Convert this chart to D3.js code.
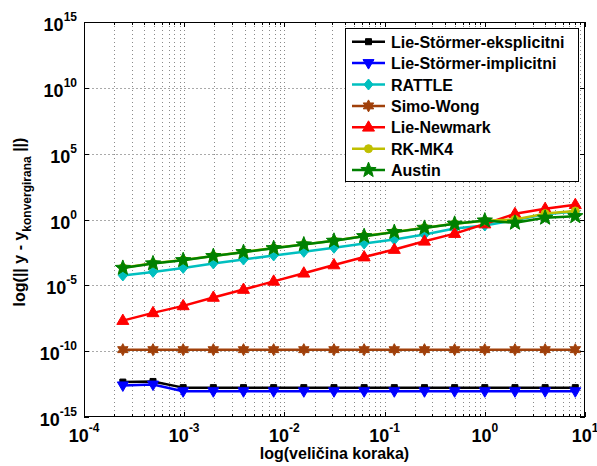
<!DOCTYPE html>
<html><head><meta charset="utf-8">
<script src="https://cdn.jsdelivr.net/npm/d3@7"></script>
<style>body{margin:0;background:#fff}svg{display:block}text{font-family:"Liberation Sans",Arial,sans-serif;font-weight:bold;fill:#000}</style>
</head><body><svg id="c" width="597" height="466"></svg>
<script>
// ---- data ----
const stepSizes = [0.000244140625, 0.00048828125, 0.0009765625, 0.001953125, 0.00390625, 0.0078125, 0.015625, 0.03125, 0.0625, 0.125, 0.25, 0.5, 1, 2, 4, 8];
const lieStormerExplicit = [4.5e-13, 5.0e-13, 1.7e-13, 1.7e-13, 1.7e-13, 1.7e-13, 1.7e-13, 1.7e-13, 1.7e-13, 1.7e-13, 1.7e-13, 1.7e-13, 1.7e-13, 1.7e-13, 1.7e-13, 1.7e-13];
const lieStormerImplicit = [2.5e-13, 2.9e-13, 9e-14, 9e-14, 9e-14, 9e-14, 9e-14, 9e-14, 9e-14, 9e-14, 9e-14, 9e-14, 9e-14, 9e-14, 9e-14, 9e-14];
const rattle = [5.6e-5, 1.05e-4, 2.1e-4, 4.6e-4, 9.1e-4, 1.86e-3, 3.5e-3, 7.1e-3, 0.0151, 0.030, 0.072, 0.21, 0.35, 0.89, 2.5, 4.0];
const simoWong = [1.3e-10, 1.3e-10, 1.3e-10, 1.3e-10, 1.3e-10, 1.3e-10, 1.3e-10, 1.3e-10, 1.3e-10, 1.3e-10, 1.3e-10, 1.3e-10, 1.3e-10, 1.3e-10, 1.3e-10, 1.3e-10];
const lieNewmark = [2.1e-8, 8.1e-8, 2.75e-7, 1.2e-6, 4.8e-6, 2.0e-5, 8.3e-5, 3.5e-4, 1.4e-3, 5.2e-3, 0.022, 0.085, 0.45, 2.7, 6.6, 13.2];
const rkmk4 = [2.2e-4, 4.7e-4, 8.5e-4, 1.7e-3, 3.4e-3, 6.8e-3, 0.0129, 0.0245, 0.055, 0.112, 0.24, 0.48, 0.79, 1.0, 2.8, 4.5];
const austin = [2.1e-4, 4.6e-4, 8.1e-4, 1.66e-3, 3.3e-3, 6.6e-3, 0.0126, 0.024, 0.054, 0.11, 0.23, 0.47, 0.83, 0.56, 1.35, 1.78];
const seriesNames = ["Lie-Störmer-eksplicitni", "Lie-Störmer-implicitni", "RATTLE", "Simo-Wong", "Lie-Newmark", "RK-MK4", "Austin"];
const xTickExponents = [-4, -3, -2, -1, 0, 1];
const yTickExponents = [-15, -10, -5, 0, 5, 10, 15];
const xLabel = "log(veličina koraka)";
const yLabelMain = "log(|| y - y";
const yLabelSub = "konvergirana";
const yLabelEnd = " ||)";

// ---- styles ----
const colors = ["#000000", "#0000ff", "#00bfbf", "#a0400a", "#ff0000", "#bfbf00", "#008000"];
const markers = ["square", "triDown", "diamond", "hexagram", "triUp", "circle", "pentagram"];
const allSeries = [lieStormerExplicit, lieStormerImplicit, rattle, simoWong, lieNewmark, rkmk4, austin];

const L = 84, R = 585, T = 22, B = 417;
const svg = d3.select("#c");
const x = d3.scaleLog().domain([1e-4, 10]).range([L, R]);
const y = d3.scaleLog().domain([1e-15, 1e15]).range([B, T]);

function starPath(n, ro, ri) {
  const pts = [];
  for (let i = 0; i < 2 * n; i++) {
    const a = -Math.PI / 2 + i * Math.PI / n;
    const r = i % 2 === 0 ? ro : ri;
    pts.push([r * Math.cos(a), r * Math.sin(a)]);
  }
  return "M" + pts.map(p => p[0].toFixed(2) + "," + p[1].toFixed(2)).join("L") + "Z";
}
function markerPath(m) {
  switch (m) {
    case "square": return "M-3,-3H3V3H-3Z";
    case "triDown": return "M-5.5,-3.5L5.5,-3.5L0,6Z";
    case "triUp": return "M-6,3.8L6,3.8L0,-6.5Z";
    case "diamond": return "M0,-5.5L4.5,0L0,5.5L-4.5,0Z";
    case "hexagram": return starPath(6, 6, 3.3);
    case "circle": return d3.symbol(d3.symbolCircle, 50)();
    case "pentagram": return starPath(5, 8, 3.4);
  }
}

svg.append("rect").attr("x", L).attr("y", T).attr("width", R - L).attr("height", B - T).attr("fill", "#fff");

// grid
const g = svg.append("g");
const xGridVals = [];
for (let e = -4; e < 1; e++) for (let k = 1; k <= 9; k++) { const v = k * Math.pow(10, e); if (!(e === -4 && k === 1)) xGridVals.push(v); }
g.selectAll(".vg").data(xGridVals).join("line")
  .attr("x1", d => Math.round(x(d)) + 0.5).attr("x2", d => Math.round(x(d)) + 0.5)
  .attr("y1", T).attr("y2", B)
  .attr("stroke", "#8a8a8a").attr("stroke-width", 1).attr("stroke-dasharray", "1,3");
g.selectAll(".hg").data(yTickExponents.slice(1, -1)).join("line")
  .attr("y1", d => Math.round(y(Math.pow(10, d))) + 0.5).attr("y2", d => Math.round(y(Math.pow(10, d))) + 0.5)
  .attr("x1", L).attr("x2", R)
  .attr("stroke", "#aaa").attr("stroke-width", 1).attr("stroke-dasharray", "2,2");

// ticks (inside, all four sides)
const tk = svg.append("g").attr("stroke", "#000").attr("stroke-width", 1);
const xMinor = xGridVals.filter(v => !xTickExponents.some(e => Math.abs(Math.log10(v) - e) < 1e-9));
xTickExponents.forEach(e => {
  const px = Math.round(x(Math.pow(10, e))) + 0.5;
  tk.append("line").attr("x1", px).attr("x2", px).attr("y1", B).attr("y2", B - 5);
  tk.append("line").attr("x1", px).attr("x2", px).attr("y1", T).attr("y2", T + 5);
});
xMinor.forEach(v => {
  const px = Math.round(x(v)) + 0.5;
  tk.append("line").attr("x1", px).attr("x2", px).attr("y1", B).attr("y2", B - 3);
  tk.append("line").attr("x1", px).attr("x2", px).attr("y1", T).attr("y2", T + 3);
});
yTickExponents.forEach(e => {
  const py = Math.round(y(Math.pow(10, e))) + 0.5;
  tk.append("line").attr("x1", L).attr("x2", L + 5).attr("y1", py).attr("y2", py);
  tk.append("line").attr("x1", R).attr("x2", R - 5).attr("y1", py).attr("y2", py);
});

// series
const line = d3.line().x((d, i) => x(stepSizes[i])).y(d => y(d));
allSeries.forEach((s, si) => {
  const gs = svg.append("g");
  gs.append("path").datum(s).attr("d", line).attr("fill", "none")
    .attr("stroke", colors[si]).attr("stroke-width", 2.5).attr("stroke-linejoin", "round");
  gs.selectAll("path.m").data(s).join("path").attr("class", "m")
    .attr("d", markerPath(markers[si]))
    .attr("transform", (d, i) => `translate(${x(stepSizes[i])},${y(d)})`)
    .attr("fill", colors[si]).attr("stroke", colors[si]).attr("stroke-width", 1);
});

// axes box
svg.append("rect").attr("x", L + 0.5).attr("y", T + 0.5).attr("width", R - L - 1).attr("height", B - T - 1)
  .attr("fill", "none").attr("stroke", "#000").attr("stroke-width", 1);

// tick labels
xTickExponents.forEach(e => {
  const t = svg.append("text").attr("x", x(Math.pow(10, e))).attr("y", 442).attr("text-anchor", "middle").style("font-size", "18px");
  t.append("tspan").text("10");
  t.append("tspan").attr("dy", -10).style("font-size", "12px").text(String(e));
});
yTickExponents.forEach(e => {
  const t = svg.append("text").attr("x", 77).attr("y", y(Math.pow(10, e)) + 9).attr("text-anchor", "end").style("font-size", "18px");
  t.append("tspan").text("10");
  t.append("tspan").attr("dy", -10).style("font-size", "12px").text(String(e));
});

// axis labels
svg.append("text").attr("x", (L + R) / 2).attr("y", 459).attr("text-anchor", "middle").style("font-size", "16px").text(xLabel);
const yl = svg.append("text").attr("transform", "translate(25,222) rotate(-90)").attr("text-anchor", "middle").style("font-size", "16px");
yl.append("tspan").text(yLabelMain);
yl.append("tspan").attr("dy", 6).style("font-size", "12px").text(yLabelSub);
yl.append("tspan").attr("dy", -6).text(yLabelEnd);

// legend
const lg = svg.append("g");
lg.append("rect").attr("x", 345.5).attr("y", 28.5).attr("width", 233).attr("height", 153)
  .attr("fill", "#fff").attr("stroke", "#000").attr("stroke-width", 1);
seriesNames.forEach((name, i) => {
  const cy = 41.7 + i * 21.4;
  lg.append("line").attr("x1", 352).attr("x2", 385).attr("y1", cy).attr("y2", cy)
    .attr("stroke", colors[i]).attr("stroke-width", 2.5);
  lg.append("path").attr("d", markerPath(markers[i])).attr("transform", `translate(368.5,${cy})`)
    .attr("fill", colors[i]).attr("stroke", colors[i]);
  lg.append("text").attr("x", 391).attr("y", cy + 6).style("font-size", "16px").text(name);
});
</script></body></html>
